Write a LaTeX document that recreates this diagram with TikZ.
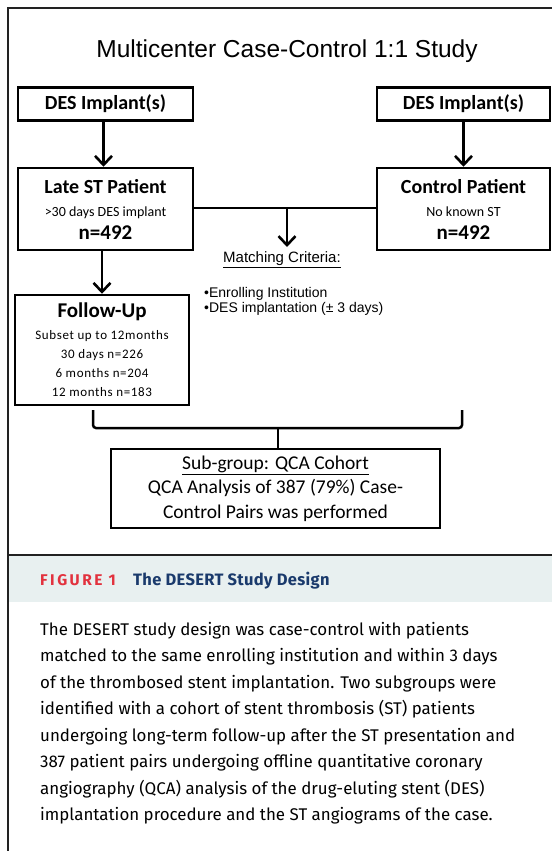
\documentclass[tikz,border=0pt]{standalone}
\usepackage{fontspec}
\setmainfont{Carlito}
\newfontfamily\arialf{Liberation Sans}
\newfontfamily\capf{Fira Sans}
\usetikzlibrary{arrows.meta}
\definecolor{band}{HTML}{E8F0F0}
\definecolor{figred}{HTML}{E2323E}
\definecolor{figblue}{HTML}{1A3A6C}
\definecolor{framec}{HTML}{222222}
\newcommand{\bt}[1]{{\bfseries\fontsize{20}{22}\selectfont #1}}
\newcommand{\bn}[1]{{\bfseries\fontsize{21}{22}\selectfont #1}}
\newcommand{\sm}[1]{{\fontsize{14}{16}\selectfont #1}}
\newcommand{\fl}[1]{{\addfontfeatures{LetterSpace=5}#1}}
\begin{document}
\begin{tikzpicture}[x=1pt,y=-1pt,
  box/.style={draw, line width=2.5pt, inner sep=0pt, align=center},
  conn/.style={line width=2.5pt},
  arr/.style={line width=2.5pt, -{Straight Barb[length=9pt,width=17pt,line width=2.6pt]}},
]
\useasboundingbox (0,0) rectangle (552,851);
% frame
\fill[band] (9,556) rectangle (552,602);
\draw[framec, line width=2pt] (8,851) -- (8,8) -- (552,8);
\draw[framec, line width=2pt] (8,555) -- (552,555);

% title
\node[font=\arialf\fontsize{24.5}{26}\selectfont] (title) at (287,51) {Multicenter Case-Control 1:1 Study};

% boxes
\node[box, minimum width=175pt, minimum height=33pt, font=\bfseries\fontsize{20}{22}\selectfont] (des1) at (105.5,104) {DES Implant(s)};
\node[box, minimum width=173pt, minimum height=33pt, font=\bfseries\fontsize{20}{22}\selectfont] (des2) at (463.5,104) {DES Implant(s)};
\node[box, minimum width=175pt, minimum height=82pt, font=\fontsize{14}{23}\selectfont] (late) at (105.5,209)
  {\bt{Late ST Patient}\\ \sm{>30 days DES implant}\\ \bn{n=492}};
\node[box, minimum width=173pt, minimum height=82pt, font=\fontsize{14}{23}\selectfont] (ctrl) at (463.5,209)
  {\bt{Control Patient}\\ \sm{No known ST}\\ \bn{n=492}};
\node[box, minimum width=174pt, minimum height=110pt, font=\fontsize{13}{19}\selectfont] (fu) at (102,350)
  {{\bfseries\fontsize{21}{22}\selectfont Follow-Up}\\[3pt]
   \fl{Subset up to 12months}\\
   \fl{30 days n=226}\\
   \fl{6 months n=204}\\
   \fl{12 months n=183}};
\node[box, minimum width=329pt, minimum height=79pt, font=\fontsize{19.5}{24.5}\selectfont] (qca) at (275.5,488.5)
  {\underline{Sub-group: QCA Cohort}\\
   QCA Analysis of 387 (79\%) Case-\\
   Control Pairs was performed};

% matching criteria
\node[font=\arialf\fontsize{15}{17}\selectfont] (mc) at (282,260) {\underline{Matching Criteria:}};
\node[font=\arialf\fontsize{14}{15}\selectfont, anchor=west, align=left, inner sep=0pt] (crit) at (204,301)
  {•Enrolling Institution\\ •DES implantation (± 3 days)};

% connectors
\draw[arr] ([xshift=-2pt]des1.south) -- ([xshift=-2pt]late.north);
\draw[arr] (des2.south) -- (ctrl.north);
\coordinate (mid) at (287,208);
\coordinate (midend) at (287,247);
\draw[conn] (late.east |- mid) -- (ctrl.west |- mid);
\draw[arr] (mid) -- (midend);
\draw[arr] (late.south -| fu.north) -- (fu.north);
% bracket
\coordinate (bl) at (93,410);
\coordinate (br) at (462,410);
\coordinate (bj) at (278,428);
\draw[conn, rounded corners=3pt] (bl) -- (bl |- bj) -- (br |- bj) -- (br);
\draw[conn] (bj) -- (bj |- qca.north);

% caption
\node[anchor=base west, inner sep=0pt, font=\capf\bfseries\fontsize{15.5}{18}\selectfont, text=figred] (fig) at (40,585)
  {\addfontfeatures{LetterSpace=16}FIGURE 1};
\node[anchor=base west, inner sep=0pt, font=\capf\bfseries\fontsize{16.5}{18}\selectfont, text=figblue] (figt) at (133,585)
  {\addfontfeatures{LetterSpace=2}The DESERT Study Design};
\node[anchor=north west, inner sep=0pt, align=left, font=\capf\fontsize{16.9}{26.5}\selectfont] (body) at (40,622)
  {The DESERT study design was case-control with patients\\
   matched to the same enrolling institution and within 3 days\\
   of the thrombosed stent implantation. Two subgroups were\\
   identified with a cohort of stent thrombosis (ST) patients\\
   undergoing long-term follow-up after the ST presentation and\\
   387 patient pairs undergoing offline quantitative coronary\\
   angiography (QCA) analysis of the drug-eluting stent (DES)\\
   implantation procedure and the ST angiograms of the case.};
\end{tikzpicture}
\end{document}
